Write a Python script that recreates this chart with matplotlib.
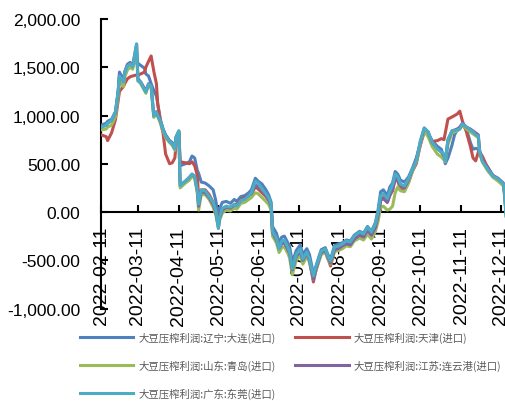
import matplotlib
matplotlib.use("Agg")
import matplotlib.pyplot as plt
import matplotlib.dates as mdates
from matplotlib.ticker import FuncFormatter, FixedLocator
import pandas as pd

dates = ["2022-02-11","2022-02-15","2022-02-16","2022-02-19","2022-02-22","2022-02-24","2022-02-25","2022-02-28",
"2022-03-01","2022-03-03","2022-03-05","2022-03-07","2022-03-10","2022-03-11","2022-03-13","2022-03-16","2022-03-17",
"2022-03-19","2022-03-21","2022-03-23","2022-03-25","2022-03-26","2022-03-28","2022-03-30","2022-04-01","2022-04-04",
"2022-04-06","2022-04-08","2022-04-09","2022-04-11","2022-04-12","2022-04-16","2022-04-19","2022-04-21","2022-04-23",
"2022-04-25","2022-04-26","2022-04-28","2022-05-01","2022-05-04","2022-05-07","2022-05-09","2022-05-11","2022-05-12",
"2022-05-14","2022-05-17","2022-05-20","2022-05-23","2022-05-25","2022-05-28","2022-05-31","2022-06-03","2022-06-05",
"2022-06-08","2022-06-10","2022-06-13","2022-06-16","2022-06-18","2022-06-20","2022-06-21","2022-06-24","2022-06-26",
"2022-06-28","2022-06-30","2022-07-03","2022-07-04","2022-07-06","2022-07-09","2022-07-12","2022-07-14","2022-07-17",
"2022-07-19","2022-07-22","2022-07-24","2022-07-26","2022-07-28","2022-07-31","2022-08-02","2022-08-04","2022-08-07",
"2022-08-10","2022-08-13","2022-08-16","2022-08-19","2022-08-22","2022-08-26","2022-08-29","2022-09-01","2022-09-04",
"2022-09-07","2022-09-09","2022-09-11","2022-09-13","2022-09-16","2022-09-18","2022-09-20","2022-09-22","2022-09-24",
"2022-09-26","2022-09-29","2022-10-02","2022-10-05","2022-10-08","2022-10-11","2022-10-14","2022-10-17","2022-10-20",
"2022-10-24","2022-10-27","2022-10-29","2022-10-30","2022-11-01","2022-11-04","2022-11-06","2022-11-08","2022-11-10",
"2022-11-12","2022-11-15","2022-11-18","2022-11-20","2022-11-22","2022-11-24","2022-11-25","2022-11-27","2022-12-01",
"2022-12-05","2022-12-09","2022-12-13","2022-12-14","2022-12-15"]

dalian = [900,920,940,960,1040,1250,1450,1370,1450,1530,1550,1530,1600,1540,1520,1490,1430,1410,1330,1260,1200,1120,960,860,
800,740,720,680,780,840,480,500,520,580,560,430,400,310,300,270,230,120,-60,40,100,110,90,130,110,160,170,200,230,350,320,
290,230,180,100,-150,-220,-320,-260,-250,-330,-360,-520,-400,-340,-440,-380,-440,-640,-560,-470,-390,-370,-440,-490,-350,
-330,-320,-290,-300,-240,-200,-220,-150,-200,-110,20,210,230,170,260,300,420,390,330,310,360,450,560,700,850,810,740,680,
650,560,500,560,690,800,850,870,900,860,720,650,660,650,600,540,470,380,330,280,180,-20]

tianjin = [800,780,740,820,960,1150,1250,1300,1330,1380,1400,1410,1420,1420,1430,1450,1500,1560,1617,1460,1330,1120,940,820,
600,500,510,560,720,820,520,510,500,520,480,380,150,230,230,180,100,20,-120,-30,30,60,40,80,80,130,150,170,190,260,240,
200,160,120,50,-200,-280,-370,-320,-300,-380,-420,-600,-460,-400,-500,-430,-500,-725,-600,-510,-420,-400,-480,-560,-400,
-380,-350,-320,-330,-270,-220,-240,-170,-230,-140,-30,120,150,100,180,220,340,320,240,220,300,420,500,690,830,800,730,740,
760,750,820,963,984,1000,1015,1045,940,829,680,560,530,620,620,580,460,370,330,290,200,30]

qingdao = [850,860,880,900,990,1200,1350,1300,1400,1470,1500,1480,1650,1360,1330,1260,1230,1310,1290,980,1020,990,920,840,
770,720,690,640,760,820,250,300,330,370,350,200,20,180,180,130,50,-30,-170,-80,-10,20,10,40,30,90,100,130,150,200,190,
150,110,80,20,-250,-320,-420,-370,-360,-440,-480,-650,-500,-450,-540,-460,-520,-700,-600,-520,-440,-420,-490,-540,-410,
-400,-380,-350,-360,-300,-270,-290,-230,-280,-200,-100,50,60,20,30,60,200,260,220,210,300,420,520,700,840,780,680,600,
570,540,520,700,820,830,840,860,900,860,830,810,790,770,620,520,430,360,320,270,150,-40]

lianyungang = [880,900,920,950,1030,1240,1420,1350,1450,1520,1540,1520,1740,1380,1350,1280,1250,1330,1310,1000,1040,1000,940,
860,790,730,710,660,780,830,280,320,360,390,370,220,60,210,200,150,80,0,-150,-60,20,50,40,70,70,120,140,170,190,280,260,
230,170,130,60,-210,-290,-380,-330,-320,-400,-430,-600,-460,-410,-500,-430,-500,-700,-590,-500,-420,-400,-470,-530,-390,
-380,-350,-330,-340,-280,-240,-260,-190,-240,-160,-40,120,140,100,170,230,360,330,270,250,330,440,540,720,870,830,720,660,
620,580,540,740,840,850,860,880,920,880,860,840,820,800,640,540,450,380,350,300,190,0]

dongguan = [880,900,920,950,1040,1250,1410,1347,1440,1513,1534,1503,1741,1358,1347,1260,1243,1326,1306,995,1036,1000,943,
860,788,730,710,653,780,840,270,321,360,394,373,220,80,230,220,160,100,20,-170,-50,40,60,50,80,60,120,130,170,200,320,300,
240,190,150,80,-200,-270,-383,-300,-290,-380,-414,-590,-440,-383,-487,-414,-487,-663,-560,-487,-404,-383,-456,-508,-363,
-352,-330,-300,-311,-249,-207,-228,-155,-207,-124,0,170,190,140,220,280,394,363,290,270,342,446,528,736,870,829,725,653,
620,600,528,756,839,845,850,860,912,881,850,829,800,788,622,528,446,373,342,290,200,-41]

labels = ["大豆压榨利润:辽宁:大连(进口)", "大豆压榨利润:天津(进口)", "大豆压榨利润:山东:青岛(进口)",
          "大豆压榨利润:江苏:连云港(进口)", "大豆压榨利润:广东:东莞(进口)"]
colors = ["#4F81BD", "#C0504D", "#9BBB59", "#8064A2", "#4BACC6"]
yticks = [-1000, -500, 0, 500, 1000, 1500, 2000]
xtick_dates = ["2022-02-11","2022-03-11","2022-04-11","2022-05-11","2022-06-11","2022-07-11",
               "2022-08-11","2022-09-11","2022-10-11","2022-11-11","2022-12-11"]

plt.rcParams['font.family'] = ['Liberation Sans', 'DejaVu Sans']

x = pd.to_datetime(dates)
series = [dalian, tianjin, qingdao, lianyungang, dongguan]

fig = plt.figure(figsize=(5.06, 4.02), dpi=100)
ax = fig.add_axes([101/506, 1 - 309.5/402, 405/506, 289.5/402])

handles = []
for vals, lab, col in zip(series, labels, colors):
    h, = ax.plot(x, vals, color=col, lw=2.2, label=lab, zorder=3, solid_joinstyle='round')
    handles.append(h)

ax.set_ylim(-1000, 2000)
ax.set_xlim(pd.Timestamp("2022-02-11"), pd.Timestamp("2022-12-15"))
ax.yaxis.set_major_locator(FixedLocator(yticks))
ax.yaxis.set_major_formatter(FuncFormatter(lambda v, p: f"{v:,.2f}"))
ax.xaxis.set_major_locator(FixedLocator(mdates.date2num(pd.to_datetime(xtick_dates))))
ax.xaxis.set_major_formatter(mdates.DateFormatter("%Y-%m-%d"))

for s in ["top", "right"]:
    ax.spines[s].set_visible(False)
ax.spines["bottom"].set_position(("data", 0))
for s in ["left", "bottom"]:
    ax.spines[s].set_linewidth(1.5)
    ax.spines[s].set_color("black")

ax.tick_params(axis="y", direction="in", length=5, width=1.5, labelsize=12.5, pad=15, colors="black")
ax.tick_params(axis="x", direction="in", length=5, width=1.5, labelsize=14, pad=10, colors="black",
               labelrotation=90)
for t in ax.get_xticklabels():
    t.set_verticalalignment("top")

order = [0, 2, 4, 1, 3]
leg = fig.legend([handles[i] for i in order], [labels[i] for i in order], ncol=2,
                 loc="upper left", bbox_to_anchor=(80/506, 1 - 333/402), frameon=False,
                 borderpad=0, borderaxespad=0, handlelength=5.1, handletextpad=0.5,
                 columnspacing=1.9, labelspacing=1.6,
                 prop={'family': ['Noto Sans CJK SC', 'DejaVu Sans'], 'size': 7.5})
for t in leg.get_texts():
    t.set_color("#595959")

fig.savefig("out.png", dpi=100)
